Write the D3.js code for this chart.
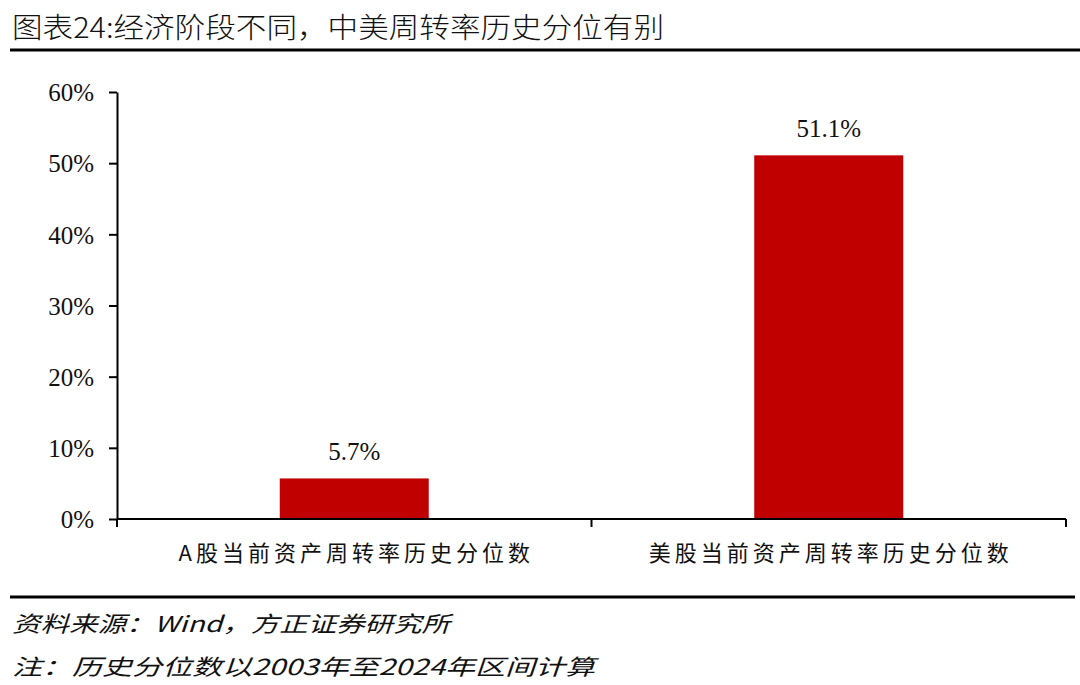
<!DOCTYPE html>
<html>
<head>
<meta charset="utf-8">
<script src="https://cdn.jsdelivr.net/npm/d3@7"></script>
<style>
  body { margin: 0; background: #fff; }
  svg { display: block; }
</style>
</head>
<body>
<div id="chart"></div>
<script>
// data
const categories = ["A股当前资产周转率历史分位数", "美股当前资产周转率历史分位数"];
const values = [5.7, 51.1];
const yTicks = [0, 10, 20, 30, 40, 50, 60];

const title = "图表24:经济阶段不同，中美周转率历史分位有别";
const source = "资料来源：Wind，方正证券研究所";
const note = "注：历史分位数以2003年至2024年区间计算";

const W = 1080, H = 685;
const margin = {top: 92, right: 14, bottom: 166, left: 117};
const width = W - margin.left - margin.right;
const height = H - margin.top - margin.bottom;

const svg = d3.select("#chart").append("svg")
  .attr("width", W)
  .attr("height", H);

// title + rules
svg.append("text")
  .attr("x", 12)
  .attr("y", 38)
  .attr("textLength", 652)
  .attr("lengthAdjust", "spacingAndGlyphs")
  .style("font-family", "'Noto Sans CJK SC', sans-serif")
  .style("font-size", "28px")
  .style("font-weight", 300)
  .style("fill", "#111")
  .text(title);

svg.append("line")
  .attr("x1", 10).attr("x2", 1080)
  .attr("y1", 50).attr("y2", 50)
  .attr("stroke", "#000").attr("stroke-width", 3);

svg.append("line")
  .attr("x1", 10).attr("x2", 1075)
  .attr("y1", 597).attr("y2", 597)
  .attr("stroke", "#000").attr("stroke-width", 3);

const g = svg.append("g")
  .attr("transform", `translate(${margin.left},${margin.top})`);

// scales
const x = d3.scaleBand()
  .domain(categories)
  .range([0, width])
  .padding(0);

const y = d3.scaleLinear()
  .domain([0, 60])
  .range([height, 0]);

const barW = x.bandwidth() * 0.314;

// bars
g.selectAll(".bar")
  .data(values)
  .join("rect")
    .attr("class", "bar")
    .attr("x", (d, i) => x(categories[i]) + (x.bandwidth() - barW) / 2)
    .attr("y", d => y(d))
    .attr("width", barW)
    .attr("height", d => y(0) - y(d))
    .attr("fill", "#c00000");

// value labels
g.selectAll(".val")
  .data(values)
  .join("text")
    .attr("class", "val")
    .attr("x", (d, i) => x(categories[i]) + x.bandwidth() / 2)
    .attr("y", d => y(d) - 18)
    .attr("text-anchor", "middle")
    .style("font-family", "'Liberation Serif', 'Times New Roman', serif")
    .style("font-size", "25px")
    .style("fill", "#111")
    .text(d => d.toFixed(1) + "%");

// y axis
const yAxis = g.append("g")
  .call(d3.axisLeft(y).tickValues(yTicks).tickSize(8).tickSizeOuter(0).tickFormat(d => d + "%"));
yAxis.select(".domain").attr("stroke", "#000").attr("stroke-width", 2);
yAxis.selectAll(".tick line").attr("stroke", "#000").attr("stroke-width", 2);
yAxis.selectAll(".tick text")
  .attr("x", -23)
  .attr("dy", "0.35em")
  .style("font-family", "'Liberation Serif', 'Times New Roman', serif")
  .style("font-size", "25px")
  .style("fill", "#111");

// x axis: ticks at band edges
const xAxis = g.append("g")
  .attr("transform", `translate(0,${height})`);

xAxis.append("line")
  .attr("x1", 0).attr("x2", width)
  .attr("stroke", "#000").attr("stroke-width", 2);

const edges = categories.map(c => x(c)).concat([width]);
xAxis.selectAll(".xtick")
  .data(edges)
  .join("line")
    .attr("class", "xtick")
    .attr("x1", d => d).attr("x2", d => d)
    .attr("y1", 0).attr("y2", 8)
    .attr("stroke", "#000").attr("stroke-width", 2);

xAxis.selectAll(".xlab")
  .data(categories)
  .join("text")
    .attr("class", "xlab")
    .attr("x", d => x(d) + x.bandwidth() / 2 + 2)
    .attr("y", 42)
    .attr("text-anchor", "middle")
    .style("font-family", "'Noto Sans CJK SC', sans-serif")
    .style("font-size", "22px")
    .style("letter-spacing", "4px")
    .style("fill", "#111")
    .text(d => d);

// footer
svg.append("text")
  .attr("x", 12)
  .attr("y", 632)
  .attr("textLength", 438)
  .attr("lengthAdjust", "spacingAndGlyphs")
  .style("font-family", "'Noto Sans CJK SC', sans-serif")
  .style("font-style", "italic")
  .style("font-size", "22px")
  .style("fill", "#111")
  .text(source);

svg.append("text")
  .attr("x", 12)
  .attr("y", 675)
  .attr("textLength", 583)
  .attr("lengthAdjust", "spacingAndGlyphs")
  .style("font-family", "'Noto Sans CJK SC', sans-serif")
  .style("font-style", "italic")
  .style("font-size", "22px")
  .style("fill", "#111")
  .text(note);
</script>
</body>
</html>
